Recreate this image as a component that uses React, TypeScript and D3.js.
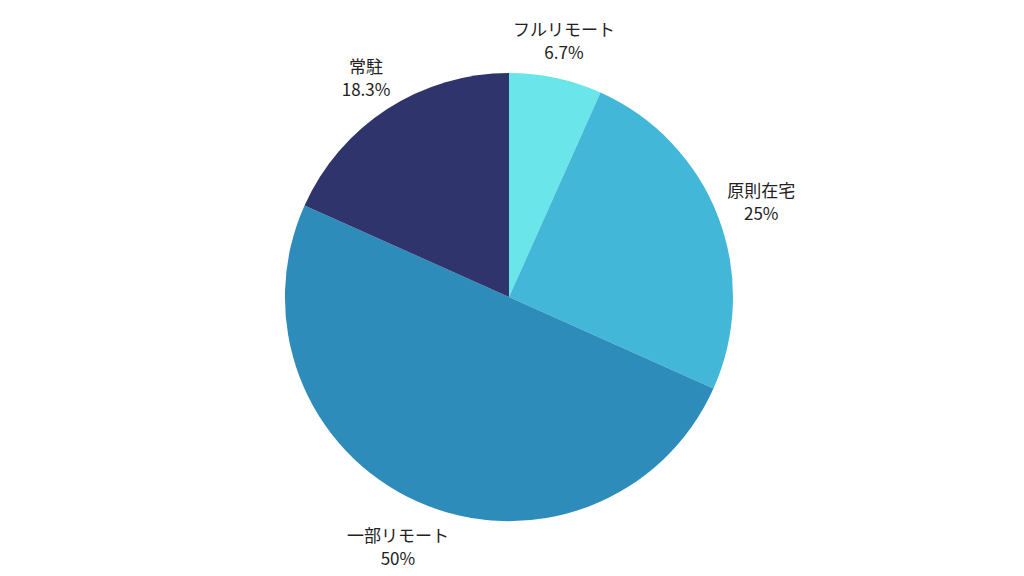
import React from 'react';
import * as d3 from 'd3';

const categories = ['フルリモート', '原則在宅', '一部リモート', '常駐'];
const values = [6.7, 25, 50, 18.3];
const valueLabels = ['6.7%', '25%', '50%', '18.3%'];
const colors = ['#6ae5e9', '#43b7d7', '#2e8cba', '#30346c'];

const W = 1024;
const H = 576;
const CX = 509;
const CY = 297;
const R = 224;
const FONT_SIZE = 17;
const LINE_GAP = 23;

export default function App() {
  const data = categories.map((c, i) => ({ name: c, value: values[i], label: valueLabels[i], color: colors[i] }));
  const pie = d3.pie<typeof data[number]>().value(d => d.value).sort(null);
  const arcs = pie(data);
  const arc = d3.arc<d3.PieArcDatum<typeof data[number]>>().innerRadius(0).outerRadius(R);

  const font = "'Noto Sans CJK JP', 'Noto Sans', sans-serif";

  return (
    <div style={{ position: 'fixed', left: 0, top: 0, width: W, height: H, background: '#fff' }}>
      <svg width={W} height={H}>
        <g transform={`translate(${CX},${CY})`}>
          {arcs.map((a, i) => (
            <path key={i} d={arc(a) || ''} fill={a.data.color} />
          ))}
          {arcs.map((a, i) => {
            const mid = (a.startAngle + a.endAngle) / 2;
            const s = Math.sin(mid);
            const c = Math.cos(mid);
            // rough half sizes of the two-line label box
            const halfW = Math.max(a.data.name.length * FONT_SIZE, a.data.label.length * 10) / 2;
            const halfH = LINE_GAP;
            const support = halfW * Math.abs(s) + halfH * Math.abs(c);
            const rr = R + 6 + support;
            const x = rr * s;
            const y = -rr * c;
            return (
              <text
                key={i}
                textAnchor="middle"
                dominantBaseline="central"
                fontFamily={font}
                fontSize={FONT_SIZE}
                fill="#222"
              >
                <tspan x={x} y={y - LINE_GAP / 2}>{a.data.name}</tspan>
                <tspan x={x} y={y + LINE_GAP / 2}>{a.data.label}</tspan>
              </text>
            );
          })}
        </g>
      </svg>
    </div>
  );
}
